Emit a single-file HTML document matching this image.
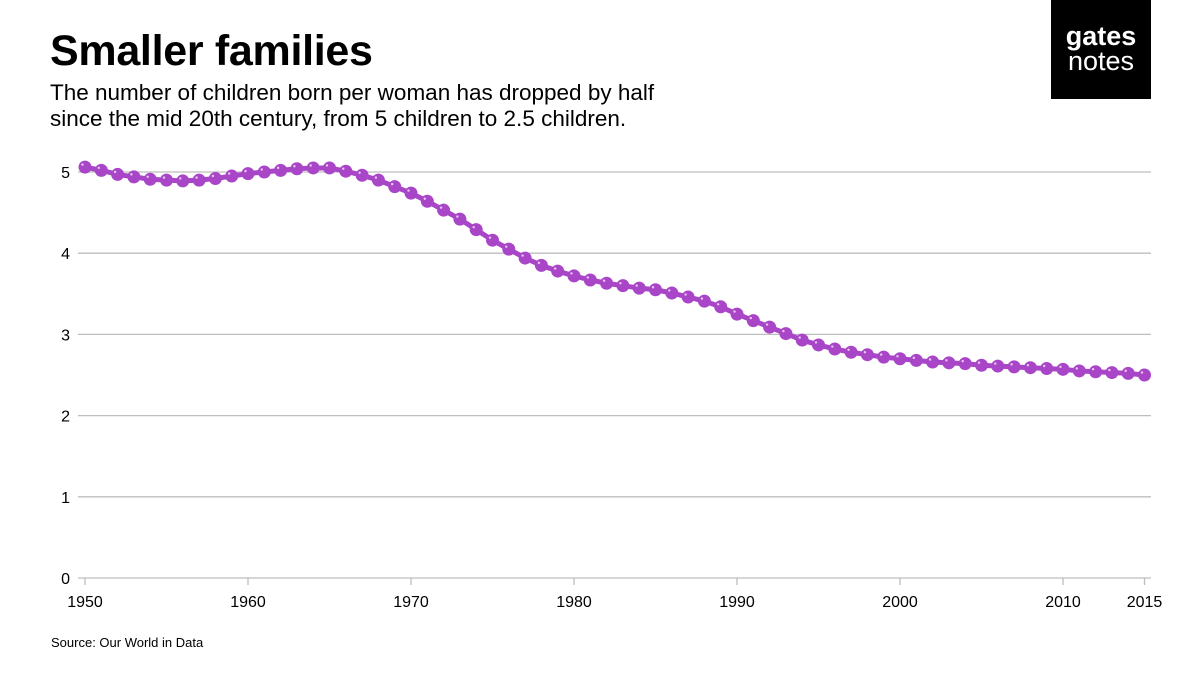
<!DOCTYPE html>
<html><head><meta charset="utf-8"><style>
body{margin:0;background:#fff;font-family:"Liberation Sans",sans-serif;}
#wrap{position:relative;width:1200px;height:675px;overflow:hidden;}
</style></head><body>
<div id="wrap">
<div style="position:absolute;left:50px;top:27px;font-size:43px;font-weight:bold;color:#000;letter-spacing:-0.3px">Smaller families</div>
<div style="position:absolute;left:50px;top:80px;font-size:22.5px;line-height:26px;color:#000">The number of children born per woman has dropped by half<br>since the mid 20th century, from 5 children to 2.5 children.</div>
<div style="position:absolute;left:1051px;top:0;width:100px;height:99px;background:#000;color:#fff;font-size:27px;line-height:25px;text-align:center;padding-top:24px;box-sizing:border-box"><b>gates</b><br>notes</div>
<div style="position:absolute;left:51px;top:635px;font-size:13px;color:#000">Source: Our World in Data</div>
<svg id="chart" width="1200" height="675" style="position:absolute;left:0;top:0"></svg>
</div>
<script>
const years=[1950,1951,1952,1953,1954,1955,1956,1957,1958,1959,1960,1961,1962,1963,1964,1965,1966,1967,1968,1969,1970,1971,1972,1973,1974,1975,1976,1977,1978,1979,1980,1981,1982,1983,1984,1985,1986,1987,1988,1989,1990,1991,1992,1993,1994,1995,1996,1997,1998,1999,2000,2001,2002,2003,2004,2005,2006,2007,2008,2009,2010,2011,2012,2013,2014,2015];
const fertility=[5.06,5.02,4.97,4.94,4.91,4.90,4.89,4.90,4.92,4.95,4.98,5.00,5.02,5.04,5.05,5.05,5.01,4.96,4.90,4.82,4.74,4.64,4.53,4.42,4.29,4.16,4.05,3.94,3.85,3.78,3.72,3.67,3.63,3.60,3.57,3.55,3.51,3.46,3.41,3.34,3.25,3.17,3.09,3.01,2.93,2.87,2.82,2.78,2.75,2.72,2.70,2.68,2.66,2.65,2.64,2.62,2.61,2.60,2.59,2.58,2.57,2.55,2.54,2.53,2.52,2.50];
const yTicks=[0,1,2,3,4,5];
const xTicks=[1950,1960,1970,1980,1990,2000,2010,2015];
const NS='http://www.w3.org/2000/svg';
const svg=document.getElementById('chart');
const x=v=>85+(v-1950)*16.3;
const y=v=>578-v*81.2;
function mk(t,a){const e=document.createElementNS(NS,t);for(const k in a)e.setAttribute(k,a[k]);svg.appendChild(e);return e;}
yTicks.forEach(t=>{
  const l=mk('line',{x1:78,x2:1151,y1:y(t),y2:y(t),stroke:'#bdbdbd','stroke-width':1.3});
  
  
  const tx=mk('text',{x:70,y:y(t)+6,'text-anchor':'end','font-size':16,fill:'#000'});
  tx.textContent=t;
  
  
});
xTicks.forEach(t=>{
  const l=mk('line',{x1:x(t),x2:x(t),y1:578,y2:585,stroke:'#bdbdbd','stroke-width':1.3});
  
  
  const tx=mk('text',{x:x(t),y:607,'text-anchor':'middle','font-size':16,fill:'#000'});
  tx.textContent=t;
  
  
});
const p=mk('polyline',{points:years.map((v,i)=>x(v)+','+y(fertility[i])).join(' '),fill:'none',stroke:'#a946c8','stroke-width':5});


years.forEach((v,i)=>{
  const c=mk('circle',{cx:x(v),cy:y(fertility[i]),r:6.5,fill:'#a946c8'});
  
  
  const h=mk('circle',{cx:x(v)-2.5,cy:y(fertility[i])-2.5,r:1.2,fill:'#e8c8f0'});
  
  
});
</script>
</body></html>
